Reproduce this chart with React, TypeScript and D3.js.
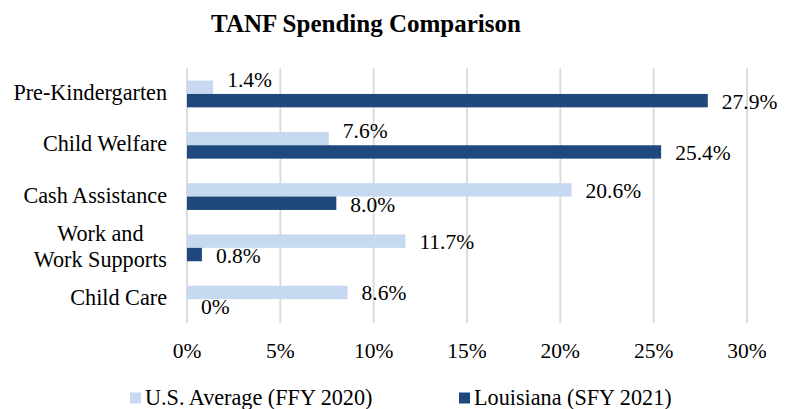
import React from "react";
import * as d3 from "d3";

const categories = ["Pre-Kindergarten", "Child Welfare", "Cash Assistance", "Work and|Work Supports", "Child Care"];
const usAverage = [1.4, 7.6, 20.6, 11.7, 8.6];
const louisiana = [27.9, 25.4, 8.0, 0.8, 0];
const usLabels = ["1.4%", "7.6%", "20.6%", "11.7%", "8.6%"];
const laLabels = ["27.9%", "25.4%", "8.0%", "0.8%", "0%"];
const xTicks = [0, 5, 10, 15, 20, 25, 30];
const seriesNames = ["U.S. Average (FFY 2020)", "Louisiana (SFY 2021)"];

const W = 792;
const H = 409;
const LIGHT = "#C6D9F1";
const DARK = "#1F497D";
const FONT = '"Liberation Serif", "DejaVu Serif", serif';
const CAT_SIZE = 22.2;

let ctx: CanvasRenderingContext2D | null = null;
function measure(s: string, size: number): number {
  if (!ctx) ctx = document.createElement("canvas").getContext("2d");
  if (!ctx) return s.length * size * 0.45;
  ctx.font = `${size}px ${FONT}`;
  return ctx.measureText(s).width;
}

export default function App() {
  const x = d3.scaleLinear().domain([0, 30]).range([187, 747]);
  const y = d3.scaleBand<string>().domain(categories).range([68.3, 324.8]);
  const step = y.step();
  const barH = 13.4;
  const ts: React.CSSProperties = { fontFamily: FONT };
  const labelRight = 167;

  return (
    <svg width={W} height={H} style={{ position: "absolute", left: 0, top: 0, background: "#fff", fontFamily: FONT }}>
      <rect width={W} height={H} fill="#fff" />
      <text x={366} y={32} textAnchor="middle" fontSize={25} fontWeight="bold" fill="#000" style={ts}>
        TANF Spending Comparison
      </text>
      {xTicks.map((t) => (
        <g key={t}>
          <line x1={x(t)} x2={x(t)} y1={68.3} y2={323} stroke="#d9d9d9" strokeWidth={1.8} />
          <text x={x(t)} y={357.5} textAnchor="middle" fontSize={21.5} fill="#000" style={ts}>
            {t}%
          </text>
        </g>
      ))}
      {categories.map((c, i) => {
        const cy = (y(c) as number) + step / 2;
        const lines = c.split("|");
        const lh = 25.3;
        const raise = louisiana[i] > usAverage[i] ? 8 : 0;
        const maxW = Math.max(...lines.map((l) => measure(l, CAT_SIZE)));
        const multi = lines.length > 1;
        return (
          <g key={c}>
            <rect x={x(0)} y={cy - barH} width={x(usAverage[i]) - x(0)} height={barH} fill={LIGHT} />
            <rect x={x(0)} y={cy} width={x(louisiana[i]) - x(0)} height={barH} fill={DARK} />
            <text x={x(usAverage[i]) + 14} y={cy - barH / 2 - raise + 7.8} fontSize={21.5} fill="#000" style={ts}>
              {usLabels[i]}
            </text>
            <text x={x(louisiana[i]) + 14} y={cy + barH / 2 + 8.3} fontSize={21.5} fill="#000" style={ts}>
              {laLabels[i]}
            </text>
            {lines.map((ln, k) => (
              <text
                key={k}
                x={multi ? labelRight - maxW / 2 : labelRight}
                y={cy + 6 + (k - (lines.length - 1) / 2) * lh}
                textAnchor={multi ? "middle" : "end"}
                fontSize={CAT_SIZE}
                fill="#000"
                style={ts}
              >
                {ln}
              </text>
            ))}
          </g>
        );
      })}
      <rect x={130} y={392.5} width={11} height={11} fill={LIGHT} />
      <text x={145} y={405} fontSize={22.2} fill="#000" style={ts}>
        {seriesNames[0]}
      </text>
      <rect x={459} y={392.5} width={11} height={11} fill={DARK} />
      <text x={474} y={405} fontSize={22.2} fill="#000" style={ts}>
        {seriesNames[1]}
      </text>
    </svg>
  );
}
